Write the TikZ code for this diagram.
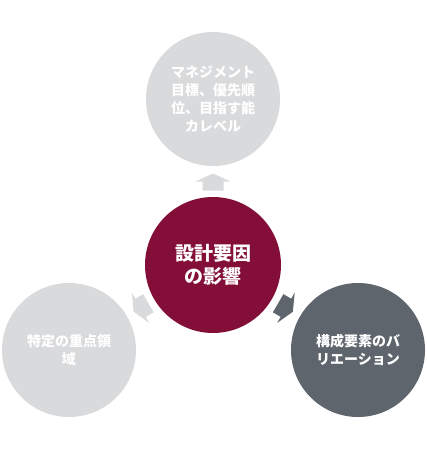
\documentclass[tikz,border=0pt]{standalone}
\usepackage{fontspec}
\newfontfamily\cjk{Noto Sans CJK JP}
\usetikzlibrary{calc}
\definecolor{lgray}{HTML}{D9DADC}
\definecolor{maroon}{HTML}{830F38}
\definecolor{dgray}{HTML}{5E656C}
\tikzset{
  outer/.style={circle, minimum size=134pt, inner sep=0pt, text=white,
    font=\cjk\bfseries\fontsize{14}{18}\selectfont, align=center},
  inner/.style={circle, minimum size=136pt, inner sep=0pt, text=white, fill=maroon,
    font=\cjk\bfseries\fontsize{19}{23}\selectfont, align=center},
  pics/flow/.style={code={
    \fill (-8.5,-10.5) -- (0.5,-10.5) -- (0.5,-17.5) -- (8.5,0) -- (0.5,17.5)
      -- (0.5,10.5) -- (-8.5,10.5) -- cycle;}}
}
\begin{document}
\begin{tikzpicture}[x=1pt,y=-1pt]
\useasboundingbox (0,0) rectangle (427,449);
\node[inner] (ctr) at (213,265) {設計要因\\の影響};
\node[outer, fill=lgray] (top) at (213,99) {マネジメント\\目標、優先順\\位、目指す能\\カレベル};
\node[outer, fill=lgray] (left) at (69,350) {特定の重点領\\域};
\node[outer, fill=dgray] (right) at (358,350) {構成要素のバ\\リエーション};
\pic[lgray, rotate=90] at ($(ctr)!0.5!(top)$) {flow};
\pic[lgray, rotate=210] at ($(ctr)!0.5!(left)$) {flow};
\pic[dgray, rotate=-30] at ($(ctr)!0.5!(right)$) {flow};
\end{tikzpicture}
\end{document}
